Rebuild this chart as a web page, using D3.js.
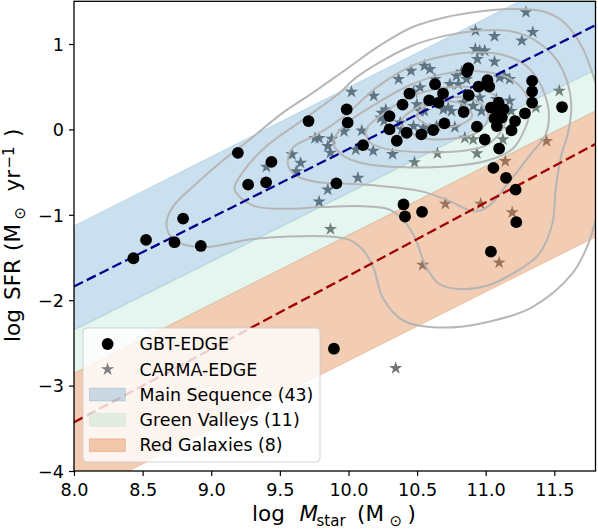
<!DOCTYPE html>
<html>
<head>
<meta charset="utf-8">
<script src="https://cdn.jsdelivr.net/npm/d3@7"></script>
<style>
  body { margin: 0; background: #fff; }
  svg { display: block; font-family: "DejaVu Sans", sans-serif; }
</style>
</head>
<body>
<div id="chart"></div>
<script>
// GBT-EDGE galaxies: [log Mstar, log SFR]
const gbtEdge = [
  [8.433,-1.509],[8.525,-1.294],[8.732,-1.321],[8.795,-1.044],[8.924,-1.365],[9.194,-0.274],
  [9.269,-0.647],[9.400,-0.620],[9.439,-0.380],[9.709,0.098],[9.912,-0.632],[9.987,0.235],
  [9.994,0.079],[10.106,-0.185],[10.299,0.156],[10.299,0.0],[10.352,-0.133],[10.394,0.291],
  [10.424,-0.039],[10.444,0.42],[10.531,-0.059],[10.588,0.341],[10.618,-0.008],[10.631,0.529],
  [10.656,0.314],[10.689,0.42],[10.699,0.071],[10.839,0.204],[10.864,0.674],[10.873,0.718],
  [10.876,0.4],[10.936,0.032],[10.948,0.502],[11.013,0.576],[11.026,0.502],[10.993,-0.118],
  [11.038,0.255],[11.064,0.129],[11.081,0.039],[11.094,0.314],[11.094,0.235],[11.131,0.235],
  [11.118,0.138],[11.188,-0.012],[11.214,0.098],[11.286,0.188],[11.338,0.568],[11.338,0.444],
  [11.338,0.314],[11.556,0.262],[11.098,-0.224],[11.056,-0.451],[11.148,-0.568],[11.218,-0.706],
  [10.401,-0.879],[10.412,-1.02],[10.536,-0.965],[11.223,-1.086],[11.038,-1.432],[9.894,-2.568]
];

// CARMA-EDGE galaxies: [log Mstar, log SFR]
const carmaEdge = [
  [10.022,0.439],[9.786,-0.102],[9.756,-0.102],[9.849,-0.196],[9.869,-0.274],[9.589,-0.294],
  [9.651,-0.392],[9.619,-0.491],[9.402,-0.439],[10.069,-0.568],[9.849,-0.706],[9.786,-0.847],
  [9.869,-1.168],[10.481,-0.385],[10.648,-0.282],[10.936,-0.282],[11.143,-0.373],[10.706,-0.871],
  [10.963,-0.871],[11.193,-0.973],[11.536,0.451],[11.443,-0.138],[11.293,1.373],[11.343,1.138],
  [11.263,1.039],[11.064,1.091],[10.926,1.156],[10.924,0.941],[10.956,0.921],[10.993,0.921],
  [10.939,0.824],[11.064,0.792],[10.541,-1.588],[11.098,-1.561],[10.344,-2.796],[9.878,-0.111],
  [9.968,-0.024],[10.097,-0.015],[10.053,-0.236],[10.18,-0.252],[10.321,-0.289],[10.243,0.194],
  [10.272,0.232],[10.235,0.136],[10.26,0.099],[10.594,0.706],[10.456,0.686],[10.553,0.745],
  [10.365,0.588],[11.101,0.608],[11.137,0.627],[11.174,0.588],[10.787,0.627],[10.824,0.674],
  [10.86,0.588],[10.739,0.529],[10.8,0.529],[10.522,0.491],[10.474,0.439],[10.63,0.588],
  [10.184,0.392],[10.498,0.294],[10.522,0.215],[10.553,0.215],[10.691,0.235],[10.727,0.255],
  [10.751,0.215],[10.836,0.314],[10.909,0.274],[10.957,0.373],[11.077,0.353],[11.174,0.333],
  [10.969,0.215],[10.474,0.039],[10.546,0.02],[10.642,0.039],[10.594,0.0],[10.775,0.027],
  [10.848,-0.098],[10.909,-0.118],[11.125,-0.118],[11.174,0.0],[10.377,0.079],[10.389,0.0],
  [11.366,0.255],[11.186,0.215]
];

// band edges, [log Mstar, log SFR] at both ends of the axis
const msUpper = [[8, -1.13], [11.8, 1.95]];
const msLower = [[8, -2.35], [11.8, 0.70]];
const rgUpper = [[8, -2.855], [11.8, 0.216]];
const rgLower = [[8, -4.32], [11.8, -1.26]];

// fitted relations (dashed)
const msLine = [[8, -1.84], [11.8, 1.22]];
const redLine = [[8, -3.43], [11.8, -0.17]];

// density contours of the comparison sample (outermost is open at the right edge)
const contourOuter = [
  [11.86,0.2],[11.79,0.6],[11.71,0.94],[11.636,1.137],[11.539,1.294],[11.392,1.392],[11.197,1.411],
  [10.953,1.38],[10.708,1.313],[10.464,1.196],[10.227,0.98],[9.984,0.705],[9.742,0.431],
  [9.523,0.196],[9.281,-0.118],[9.063,-0.393],[8.869,-0.667],[8.723,-0.902],[8.675,-1.08],
  [8.69,-1.22],[8.75,-1.32],[8.87,-1.37],[9.01,-1.37],[9.28,-1.29],[9.57,-1.255],[9.8,-1.25],
  [10.0,-1.29],[10.1,-1.4],[10.18,-1.61],[10.25,-1.97],[10.4,-2.24],[10.66,-2.32],[11.0,-2.26],
  [11.34,-2.08],[11.63,-1.69],[11.75,-1.33],[11.81,-1.0],[11.86,-0.7]
];
const contourB = [
  [9.17,-0.7],[9.3,-0.89],[9.52,-0.93],[9.8,-0.91],[10.1,-0.9],[10.3,-0.94],[10.42,-1.1],
  [10.49,-1.29],[10.566,-1.61],[10.662,-1.81],[10.808,-1.87],[11.0,-1.834],[11.196,-1.69],
  [11.39,-1.458],[11.486,-1.1],[11.51,-0.7],[11.55,-0.31],[11.6,-0.04],[11.624,0.274],
  [11.588,0.588],[11.514,0.823],[11.417,0.98],[11.294,1.098],[11.148,1.157],[10.953,1.157],
  [10.708,1.098],[10.464,0.98],[10.22,0.78],[10.05,0.6],[9.93,0.42],[9.639,0.08],
  [9.396,-0.206],[9.226,-0.51]
];
const contourC = [
  [9.573,-0.267],[9.561,-0.425],[9.621,-0.544],[9.791,-0.622],[9.96,-0.634],[10.227,-0.662],
  [10.517,-0.72],[10.711,-0.82],[10.906,-0.959],[10.978,-0.939],[11.05,-0.86],[11.148,-0.662],
  [11.244,-0.465],[11.34,-0.267],[11.44,-0.05],[11.46,0.2],[11.441,0.353],[11.392,0.549],
  [11.294,0.745],[11.148,0.862],[10.953,0.902],[10.708,0.862],[10.464,0.745],[10.22,0.509],
  [9.957,0.14],[9.76,-0.07],[9.62,-0.18]
];
const contourD = [
  [9.888,-0.149],[9.96,-0.307],[10.13,-0.406],[10.47,-0.445],[10.833,-0.418],[11.05,-0.346],
  [11.196,-0.228],[11.27,-0.05],[11.32,0.2],[11.29,0.42],[11.17,0.6],[10.95,0.68],[10.7,0.65],
  [10.45,0.52],[10.2,0.3],[9.98,0.06]
];
const contourE = [
  [10.154,-0.149],[10.275,-0.228],[10.566,-0.267],[10.857,-0.247],[11.0,-0.188],[11.1,-0.05],
  [11.15,0.15],[11.1,0.35],[10.95,0.48],[10.7,0.49],[10.45,0.38],[10.25,0.18],[10.13,0.0]
];
const contourF = [
  [10.38,0.08],[10.5,-0.08],[10.75,-0.11],[10.95,-0.02],[11.02,0.15],[10.95,0.32],[10.75,0.38],[10.55,0.3]
];
const contourG = [
  [10.5,0.15],[10.6,0.04],[10.78,0.04],[10.9,0.15],[10.85,0.28],[10.7,0.33],[10.56,0.27]
];

const xTicks = [8.0, 8.5, 9.0, 9.5, 10.0, 10.5, 11.0, 11.5];
const yTicks = [-4, -3, -2, -1, 0, 1];

const legendItems = [
  { label: 'GBT-EDGE', type: 'dot' },
  { label: 'CARMA-EDGE', type: 'star' },
  { label: 'Main Sequence (43)', type: 'patch', color: 'rgb(31,119,180)', alpha: 0.23 },
  { label: 'Green Valleys (11)', type: 'patch', color: 'rgb(102,194,165)', alpha: 0.17 },
  { label: 'Red Galaxies (8)', type: 'patch', color: 'rgb(220,117,50)', alpha: 0.37 }
];

const width = 598, height = 530;
const plot = { left: 74, right: 595.5, top: 1.3, bottom: 471 };

const x = d3.scaleLinear().domain([8, 11.8]).range([plot.left, plot.right]);
const y = d3.scaleLinear().domain([-4, 1.5]).range([plot.bottom, plot.top]);

const svg = d3.select('#chart').append('svg')
  .attr('width', width).attr('height', height)
  .attr('viewBox', `0 0 ${width} ${height}`);

svg.append('clipPath').attr('id', 'clip')
  .append('rect')
  .attr('x', plot.left).attr('y', plot.top)
  .attr('width', plot.right - plot.left).attr('height', plot.bottom - plot.top);

const g = svg.append('g').attr('clip-path', 'url(#clip)');

// stars sit under the translucent bands, so the bands tint them
const star = d3.symbol().type(d3.symbolStar).size(54);
g.append('g').selectAll('path').data(carmaEdge).join('path')
  .attr('transform', d => `translate(${x(d[0])},${y(d[1])})`)
  .attr('d', star)
  .attr('fill', '#747474');

// a band between two straight edges
const edgeAt = (edge, m) => edge[0][1] + (edge[1][1] - edge[0][1]) * (m - edge[0][0]) / (edge[1][0] - edge[0][0]);
const bandArea = (upper, lower) => d3.area()
  .x(m => x(m))
  .y0(m => y(edgeAt(lower, m)))
  .y1(m => y(edgeAt(upper, m)))([8, 11.8]);

const bands = [
  { upper: msUpper, lower: msLower, item: legendItems[2] },
  { upper: msLower, lower: rgUpper, item: legendItems[3] },
  { upper: rgUpper, lower: rgLower, item: legendItems[4] }
];
bands.forEach(b => {
  g.append('path')
    .attr('d', bandArea(b.upper, b.lower))
    .attr('fill', b.item.color).attr('fill-opacity', b.item.alpha)
    .attr('stroke', b.item.color).attr('stroke-opacity', b.item.alpha * 0.8)
    .attr('stroke-width', 1);
});

// contours
const closedLine = d3.line().x(d => x(d[0])).y(d => y(d[1])).curve(d3.curveCatmullRomClosed.alpha(0.5));
const openLine = d3.line().x(d => x(d[0])).y(d => y(d[1])).curve(d3.curveCatmullRom.alpha(0.5));
const contours = g.append('g')
  .attr('fill', 'none').attr('stroke', '#b3b3b3').attr('stroke-width', 2).attr('stroke-opacity', 0.95);
contours.append('path').attr('d', openLine(contourOuter));
[contourB, contourC, contourD, contourE, contourF, contourG].forEach(c => {
  contours.append('path').attr('d', closedLine(c));
});

// dashed relations
const straight = d3.line().x(d => x(d[0])).y(d => y(d[1]));
g.append('path').attr('d', straight(msLine))
  .attr('stroke', '#00008b').attr('stroke-width', 2.3).attr('stroke-dasharray', '10,4.3').attr('fill', 'none');
g.append('path').attr('d', straight(redLine))
  .attr('stroke', '#a00000').attr('stroke-width', 2.3).attr('stroke-dasharray', '10,4.3').attr('fill', 'none');

// GBT-EDGE dots
g.append('g').selectAll('circle').data(gbtEdge).join('circle')
  .attr('cx', d => x(d[0])).attr('cy', d => y(d[1]))
  .attr('r', 5.9).attr('fill', '#000');

// frame
svg.append('rect')
  .attr('x', plot.left).attr('y', plot.top)
  .attr('width', plot.right - plot.left).attr('height', plot.bottom - plot.top)
  .attr('fill', 'none').attr('stroke', '#000').attr('stroke-width', 1.3);

// axes
const fmtX = d3.format('.1f');
const xAxis = svg.append('g').attr('transform', `translate(0,${plot.bottom})`)
  .call(d3.axisBottom(x).tickValues(xTicks).tickSize(5).tickPadding(8).tickFormat(fmtX));
const yAxis = svg.append('g').attr('transform', `translate(${plot.left},0)`)
  .call(d3.axisLeft(y).tickValues(yTicks).tickSize(5).tickPadding(5).tickFormat(d => d < 0 ? '\u2212' + Math.abs(d) : d));
[xAxis, yAxis].forEach(a => {
  a.select('.domain').remove();
  a.selectAll('.tick line').attr('stroke', '#000').attr('stroke-width', 1.2);
  a.selectAll('.tick text').attr('fill', '#000')
    .style('font-family', '"DejaVu Sans", sans-serif').style('font-size', '17.6px');
});
xAxis.selectAll('.tick text').attr('dy', null).attr('y', 25.3);
yAxis.selectAll('.tick text').attr('dy', '0.36em');

// axis labels
const xLabel = svg.append('text').attr('y', 521).attr('fill', '#000').style('font-size', '21.5px');
xLabel.append('tspan').attr('x', 252).text('log');
xLabel.append('tspan').attr('x', 299.5).style('font-style', 'italic').text('M');
xLabel.append('tspan').attr('x', 316.5).attr('dy', 4.5).style('font-size', '15px').text('star');
xLabel.append('tspan').attr('x', 357).attr('dy', -4.5).text('(M');
xLabel.append('tspan').attr('x', 389.5).attr('dy', 4.5).style('font-size', '15px').text('\u2299');
xLabel.append('tspan').attr('x', 407.5).attr('dy', -4.5).text(')');

const yLabel = svg.append('text').attr('transform', 'translate(20,0) rotate(-90)')
  .attr('fill', '#000').style('font-size', '21.5px');
yLabel.append('tspan').attr('x', -342).text('log');
yLabel.append('tspan').attr('x', -300).text('SFR');
yLabel.append('tspan').attr('x', -251).text('(M');
yLabel.append('tspan').attr('x', -219.5).attr('dy', 4.5).style('font-size', '15px').text('\u2299');
yLabel.append('tspan').attr('x', -191.5).attr('dy', -4.5).text('yr');
yLabel.append('tspan').attr('x', -168.5).attr('dy', -6.5).style('font-size', '15px').text('\u22121');
yLabel.append('tspan').attr('x', -137).attr('dy', 6.5).text(')');

// legend
const legend = svg.append('g');
legend.append('rect')
  .attr('x', 83).attr('y', 328).attr('width', 237).attr('height', 134).attr('rx', 4)
  .attr('fill', '#fff').attr('fill-opacity', 0.8)
  .attr('stroke', '#cccccc').attr('stroke-opacity', 0.8).attr('stroke-width', 1);
const rowY = i => 344 + i * 25.3;
const legendTexts = [];
legendItems.forEach((item, i) => {
  const cy = rowY(i);
  if (item.type === 'dot') {
    legend.append('circle').attr('cx', 107.6).attr('cy', cy).attr('r', 5.9).attr('fill', '#000');
  } else if (item.type === 'star') {
    legend.append('path').attr('transform', `translate(107.6,${cy})`).attr('d', star).attr('fill', '#808080');
  } else {
    legend.append('rect').attr('x', 89.4).attr('y', cy - 6.4).attr('width', 36).attr('height', 12.8)
      .attr('fill', item.color).attr('fill-opacity', item.alpha)
      .attr('stroke', item.color).attr('stroke-opacity', item.alpha * 0.8);
  }
  legendTexts.push(legend.append('text').attr('x', 139.5).attr('y', cy).attr('dy', '0.36em')
    .attr('fill', '#000').style('font-size', '17.6px').text(item.label));
});
// the longest entry ends about 6px inside the frame in the reference
const longest = legendTexts[2].node().getComputedTextLength();
if (longest > 0) {
  const fs = Math.max(15, Math.min(19, 17.6 * 174 / longest));
  legendTexts.forEach(t => t.style('font-size', fs + 'px'));
}
</script>
</body>
</html>
